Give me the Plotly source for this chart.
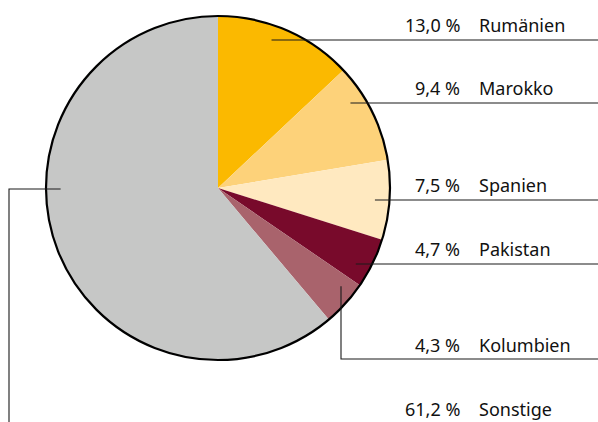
import math
import plotly.graph_objects as go

# Shares by country of origin (percent)
countries = ["Rumänien", "Marokko", "Spanien", "Pakistan", "Kolumbien", "Sonstige"]
shares = [13.0, 9.4, 7.5, 4.7, 4.3, 61.2]
share_labels = ["13,0 %", "9,4 %", "7,5 %", "4,7 %", "4,3 %", "61,2 %"]
colors = ["#FBB900", "#FDD27A", "#FFE9C0", "#780A2B", "#A9636C", "#C6C7C6"]

W, H = 598, 422
CX, CY, R = 218, 188, 172          # pie centre and radius in pixels
ANCHOR_R = 0.915 * R               # where the leader lines start inside the slices

# Leader line rows (pixel y of the horizontal line to the right edge)
line_rows = {"Rumänien": 40, "Marokko": 103, "Spanien": 200, "Pakistan": 264, "Kolumbien": 359}
kolumbien_x = 341
sonstige_y = 189
sonstige_x_left = 9

LINE = dict(color="#1a1a1a", width=1.1)
FONT = dict(family="Noto Sans, Open Sans, sans-serif", size=18, color="#111111")


def px(x):
    return x / W


def py(y):
    return 1 - y / H


fig = go.Figure(go.Pie(
    labels=countries,
    values=shares,
    sort=False,
    direction="clockwise",
    rotation=0,
    marker=dict(colors=colors, line=dict(color="#000000", width=0)),
    textinfo="none",
    hoverinfo="label+percent",
    domain=dict(x=[px(CX - R), px(CX + R)], y=[py(CY + R), py(CY - R)]),
    showlegend=False,
))

shapes = []
annotations = []

# Outer ring of the pie
shapes.append(dict(type="circle", xref="paper", yref="paper",
                   x0=px(CX - R), x1=px(CX + R), y0=py(CY + R), y1=py(CY - R),
                   line=dict(color="#000000", width=2.2)))

for name, lab in zip(countries, share_labels):
    if name in ("Rumänien", "Marokko", "Spanien", "Pakistan"):
        y = line_rows[name]
        x0 = CX + math.sqrt(ANCHOR_R ** 2 - (y - CY) ** 2)
        shapes.append(dict(type="line", xref="paper", yref="paper",
                           x0=px(x0), x1=1, y0=py(y), y1=py(y), line=LINE))
        text_y = y - 15
    elif name == "Kolumbien":
        y = line_rows[name]
        y0 = CY + math.sqrt(ANCHOR_R ** 2 - (kolumbien_x - CX) ** 2)
        shapes.append(dict(type="path", xref="paper", yref="paper",
                           path=f"M {px(kolumbien_x)} {py(y0)} L {px(kolumbien_x)} {py(y)} L 1 {py(y)}",
                           line=LINE))
        text_y = y - 14
    else:
        x0 = CX - math.sqrt(ANCHOR_R ** 2 - (sonstige_y - CY) ** 2)
        shapes.append(dict(type="path", xref="paper", yref="paper",
                           path=f"M {px(x0)} {py(sonstige_y)} L {px(sonstige_x_left)} {py(sonstige_y)} L {px(sonstige_x_left)} 0",
                           line=LINE))
        text_y = 409
    annotations.append(dict(xref="paper", yref="paper", x=px(462), y=py(text_y),
                            xanchor="right", yanchor="middle", text=lab,
                            showarrow=False, font=FONT))
    annotations.append(dict(xref="paper", yref="paper", x=px(477), y=py(text_y),
                            xanchor="left", yanchor="middle", text=name,
                            showarrow=False, font=FONT))

fig.update_layout(
    width=W, height=H,
    margin=dict(l=0, r=0, t=0, b=0),
    paper_bgcolor="white", plot_bgcolor="white",
    shapes=shapes, annotations=annotations,
)

fig.write_html("out.html")
